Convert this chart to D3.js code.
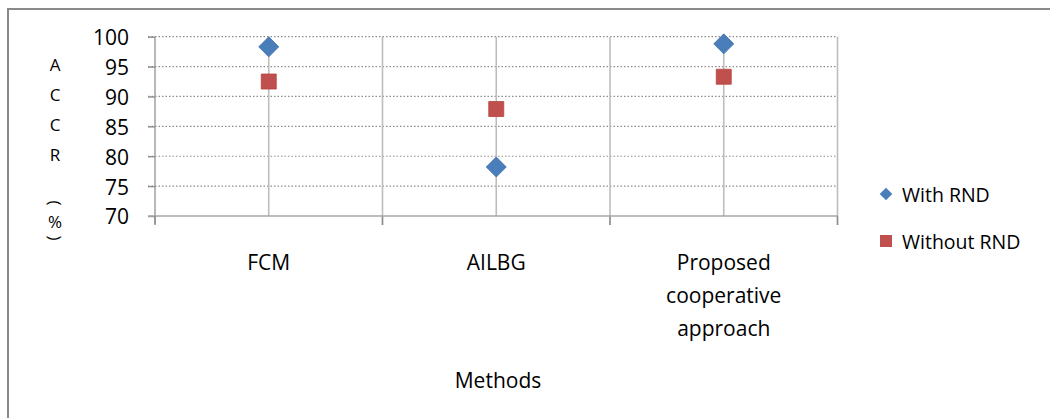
<!DOCTYPE html>
<html>
<head>
<meta charset="utf-8">
<script src="https://cdn.jsdelivr.net/npm/d3@7"></script>
<style>
  html, body { margin: 0; padding: 0; background: #fff; }
  svg { display: block; font-family: "Open Sans", "Liberation Sans", sans-serif; }
</style>
</head>
<body>
<svg id="chart" width="1050" height="418"></svg>
<script>
const categories = ["FCM", "AILBG", "Proposed cooperative approach"];
const categoryLines = [["FCM"], ["AILBG"], ["Proposed", "cooperative", "approach"]];
const withRND = [98.3, 78.2, 98.8];
const withoutRND = [92.5, 87.9, 93.3];
const seriesNames = ["With RND", "Without RND"];
const yTicks = [70, 75, 80, 85, 90, 95, 100];
const yTitleChars = ["A", "C", "C", "R"];

const svg = d3.select("#chart");

// outer frame (clipped at right/bottom as in the reference)
svg.append("rect").attr("x", 8).attr("y", 9).attr("width", 1060).attr("height", 420)
  .attr("fill", "none").attr("stroke", "#898989").attr("stroke-width", 2);

const x = d3.scaleBand().domain(categories).range([155, 837.5]).paddingInner(0).paddingOuter(0);
const y = d3.scaleLinear().domain([70, 100]).range([216, 36.7]);

const g = svg.append("g");

// horizontal dotted gridlines
g.selectAll(".hgrid").data(yTicks.filter(t => t > 70)).enter().append("line")
  .attr("x1", 148).attr("x2", 837.5)
  .attr("y1", d => y(d)).attr("y2", d => y(d))
  .attr("stroke", "#8c8c8c").attr("stroke-width", 1.2).attr("stroke-dasharray", "1.5,2");

// vertical solid lines at category boundaries (with ticks below axis)
const bounds = categories.map(c => x(c)).concat([x.range()[1]]).slice(1);
g.selectAll(".vb").data(bounds).enter().append("line")
  .attr("x1", d => d).attr("x2", d => d)
  .attr("y1", y(100)).attr("y2", 225)
  .attr("stroke", "#bdbdbd").attr("stroke-width", 1.6);

// vertical lines through category centers
g.selectAll(".vc").data(categories).enter().append("line")
  .attr("x1", d => x(d) + x.bandwidth() / 2).attr("x2", d => x(d) + x.bandwidth() / 2)
  .attr("y1", y(100)).attr("y2", y(70))
  .attr("stroke", "#bdbdbd").attr("stroke-width", 1.6);

// ticks on bottom axis at boundaries
g.selectAll(".bt").data(bounds).enter().append("line")
  .attr("x1", d => d).attr("x2", d => d).attr("y1", 216).attr("y2", 225)
  .attr("stroke", "#8c8c8c").attr("stroke-width", 1.4);

// y axis
const yAxis = d3.axisLeft(y).tickValues(yTicks).tickSize(7).tickPadding(19).tickFormat(d3.format("d"));
const ya = g.append("g").attr("transform", "translate(155,0)").call(yAxis);
ya.select(".domain").attr("stroke", "#a6a6a6").attr("stroke-width", 1.6)
  .attr("d", "M0," + (y(100)) + "V" + (y(70) + 8));
ya.selectAll(".tick line").attr("stroke", "#8c8c8c").attr("stroke-width", 1.4);
ya.selectAll(".tick text").attr("font-size", 21).attr("fill", "#000")
  .attr("font-family", "'Open Sans', sans-serif").attr("dy", "0.38em");

// x axis line
g.append("line").attr("x1", 148).attr("x2", 837.5).attr("y1", 216).attr("y2", 216)
  .attr("stroke", "#a6a6a6").attr("stroke-width", 1.6);
g.append("line").attr("x1", 155).attr("x2", 155).attr("y1", 216).attr("y2", 225)
  .attr("stroke", "#8c8c8c").attr("stroke-width", 1.4);

// category labels
categories.forEach((c, i) => {
  const t = g.append("text").attr("x", x(c) + x.bandwidth() / 2).attr("y", 270)
    .attr("text-anchor", "middle").attr("font-size", 21).attr("fill", "#000");
  categoryLines[i].forEach((ln, j) => {
    t.append("tspan").attr("x", x(c) + x.bandwidth() / 2).attr("y", 270 + j * 33).text(ln);
  });
});

// x title
g.append("text").attr("x", 498).attr("y", 388).attr("text-anchor", "middle")
  .attr("font-size", 21).attr("fill", "#000").text("Methods");

// y title (stacked characters)
yTitleChars.forEach((ch, i) => {
  g.append("text").attr("x", 55).attr("y", 71 + i * 30).attr("text-anchor", "middle")
    .attr("font-size", 17).attr("fill", "#000").text(ch);
});
g.append("text").attr("transform", "translate(55,203) rotate(90)").attr("text-anchor", "middle")
  .attr("dy", "0.35em").attr("font-size", 17).attr("fill", "#000").text("(");
g.append("text").attr("x", 55).attr("y", 228).attr("text-anchor", "middle")
  .attr("font-size", 17).attr("fill", "#000").text("%");
g.append("text").attr("transform", "translate(55,238) rotate(90)").attr("text-anchor", "middle")
  .attr("dy", "0.35em").attr("font-size", 17).attr("fill", "#000").text(")");

// markers
const diamond = d3.symbol().type(d3.symbolSquare).size(200);
const square = d3.symbol().type(d3.symbolSquare).size(225);
const cx = c => x(c) + x.bandwidth() / 2;

g.selectAll(".sq").data(categories).enter().append("path")
  .attr("d", square())
  .attr("transform", (c, i) => `translate(${cx(c)},${y(withoutRND[i])})`)
  .attr("fill", "#c0504d").attr("stroke", "#b9413e").attr("stroke-width", 0.8);

g.selectAll(".dm").data(categories).enter().append("path")
  .attr("d", diamond())
  .attr("transform", (c, i) => `translate(${cx(c)},${y(withRND[i])}) rotate(45)`)
  .attr("fill", "#4a7ebb").attr("stroke", "#3f70ad").attr("stroke-width", 0.8);

// legend
const leg = g.append("g");
leg.append("path").attr("d", d3.symbol().type(d3.symbolSquare).size(80)())
  .attr("transform", "translate(886,194) rotate(45)").attr("fill", "#4a7ebb");
leg.append("text").attr("x", 902).attr("y", 201.5).attr("font-size", 19.5).attr("fill", "#000").text(seriesNames[0]);
leg.append("path").attr("d", d3.symbol().type(d3.symbolSquare).size(144)())
  .attr("transform", "translate(886,241)").attr("fill", "#c0504d");
leg.append("text").attr("x", 902).attr("y", 248.5).attr("font-size", 19.5).attr("fill", "#000").text(seriesNames[1]);
</script>
</body>
</html>
